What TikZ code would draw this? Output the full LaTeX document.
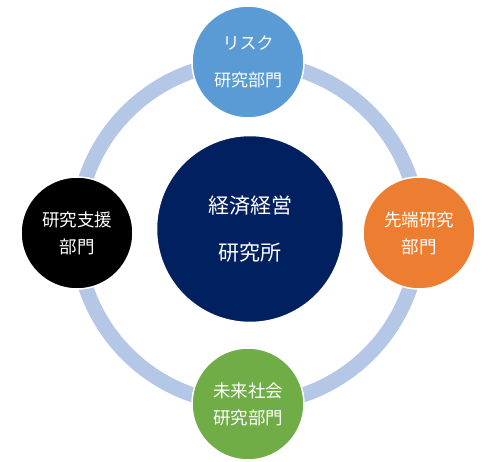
\documentclass[tikz,border=0pt]{standalone}
\usepackage{fontspec}
\newfontfamily\cjk{Noto Sans CJK JP}
\definecolor{ringblue}{HTML}{B4C7E7}
\definecolor{riskblue}{HTML}{5B9BD5}
\definecolor{advorange}{HTML}{ED7D31}
\definecolor{futgreen}{HTML}{70AD47}
\definecolor{navy}{HTML}{002060}
\begin{document}
\begin{tikzpicture}[x=1pt,y=-1pt,
  unit/.style={circle, draw=white, line width=1.5pt, minimum size=112pt, inner sep=0pt,
    text=white, align=center, font=\cjk\fontsize{17.5}{27}\selectfont},
  core/.style={circle, draw=white, line width=1.5pt, minimum size=187pt, inner sep=0pt,
    fill=navy, text=white, align=center, font=\cjk\fontsize{21}{47}\selectfont}]
\useasboundingbox (0,0) rectangle (500,462);
\coordinate (ringc) at (248,233);
\draw[ringblue, line width=15pt] (ringc) circle[radius=171pt];
\node[core] (main) at (250,229) {経済経営\\研究所};
\node[unit, fill=riskblue, font=\cjk\fontsize{17}{37}\selectfont] (risk) at (248,62) {リスク\\研究部門};
\node[unit, fill=advorange] (adv) at (419,233) {先端研究\\部門};
\node[unit, fill=black] (sup) at (77,233) {研究支援\\部門};
\node[unit, fill=futgreen] (fut) at (248,404) {未来社会\\研究部門};
\end{tikzpicture}
\end{document}
